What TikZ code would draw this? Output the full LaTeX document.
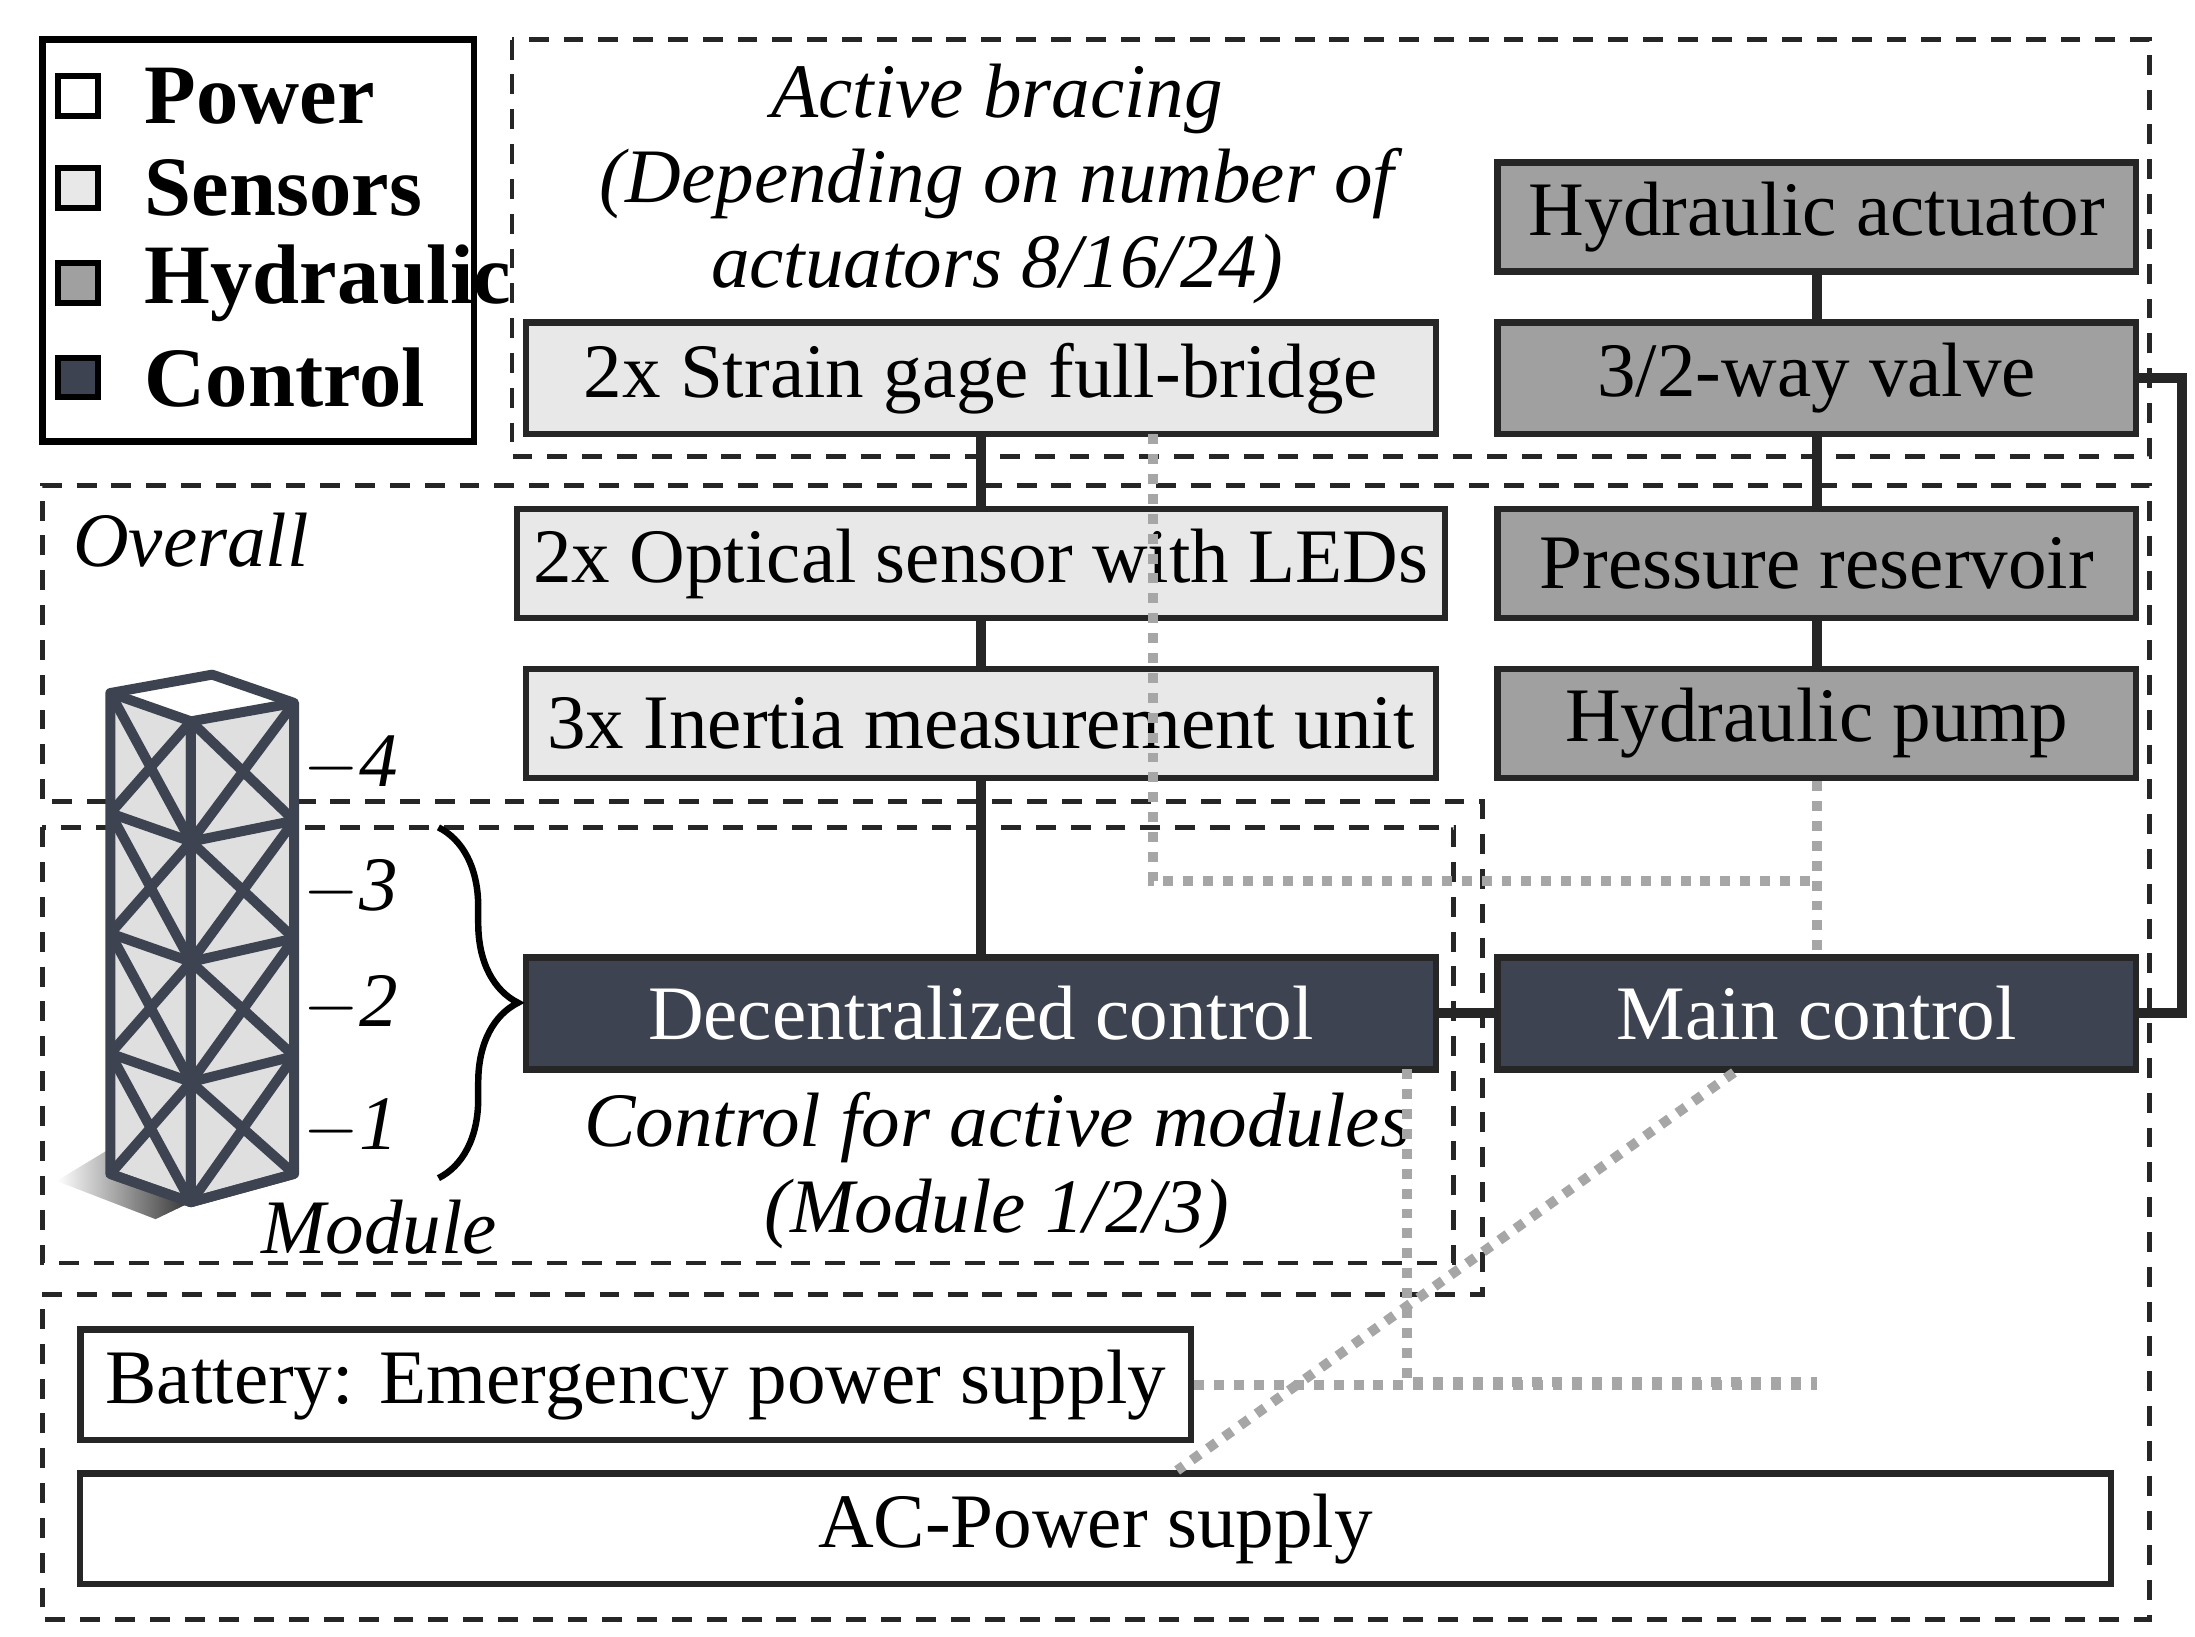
\documentclass[tikz,border=0pt]{standalone}
\usepackage{fontspec}
\setmainfont{Liberation Serif}
\usetikzlibrary{decorations.pathreplacing}
\definecolor{ctl}{HTML}{3D4350}
\definecolor{sen}{HTML}{E8E8E8}
\definecolor{hyd}{HTML}{A0A0A0}
\begin{document}
\begin{tikzpicture}[x=0.01cm,y=-0.01cm,
  box/.style={draw=black!85,line width=1.3pt,font=\fontsize{15.5}{18}\selectfont},
  dsh/.style={draw=black!85,line width=1pt,dash pattern=on 4pt off 3pt},
  ln/.style={line width=2pt,black!85},
  dt/.style={line width=2pt,gray!70,dash pattern=on 2pt off 2pt},
  it/.style={font=\fontsize{15.5}{18}\selectfont\itshape}]
\useasboundingbox (0,0) rectangle (1552,1157);
% dashed regions
\draw[dsh] (362,28) rectangle (1520,323);
\draw[dsh] (30,565)--(30,343)--(1520,343)--(1520,1145)--(30,1145)--(30,915)--(1048,915)--(1048,567)--(30,567);
\draw[dsh] (30,585) rectangle (1028,893);
% legend
\draw[line width=1.3pt] (30,28) rectangle (335,312);
\foreach \y/\c/\t in {68/white/Power,133/sen/Sensors,200/hyd/Hydraulic,267/ctl/Control}{
  \draw[line width=1.2pt,fill=\c] (41,\y-14) rectangle (69,\y+14);
  \node[anchor=west,font=\fontsize{17}{20}\selectfont\bfseries] at (90,\y) {\t};}
% nodes
\node[box,fill=sen,minimum width=6.43cm,minimum height=0.79cm] (sg) at (693.5,267.5) {2x Strain gage full-bridge};
\node[box,fill=sen,minimum width=6.43cm,minimum height=0.77cm] (os) at (693.5,398.5) {2x Optical sensor with LEDs};
\node[box,fill=sen,minimum width=6.43cm,minimum height=0.77cm] (imu) at (693.5,511.5) {3x Inertia measurement unit};
\node[box,fill=ctl,text=white,minimum width=6.43cm,minimum height=0.79cm] (dc) at (693.5,716.5) {Decentralized control};
\node[box,fill=hyd,minimum width=4.51cm,minimum height=0.77cm] (ha) at (1284.5,153.5) {Hydraulic actuator};
\node[box,fill=hyd,minimum width=4.51cm,minimum height=0.79cm] (vv) at (1284.5,267.5) {3/2-way valve};
\node[box,fill=hyd,minimum width=4.51cm,minimum height=0.77cm] (pr) at (1284.5,398.5) {Pressure reservoir};
\node[box,fill=hyd,minimum width=4.51cm,minimum height=0.77cm] (hp) at (1284.5,511.5) {Hydraulic pump};
\node[box,fill=ctl,text=white,minimum width=4.51cm,minimum height=0.79cm] (mc) at (1284.5,716.5) {Main control};
\node[box,fill=white,minimum width=7.85cm,minimum height=0.78cm] (bat) at (449.5,979) {Battery: Emergency power supply};
\node[box,fill=white,minimum width=14.35cm,minimum height=0.78cm] (ac) at (774.5,1081) {AC-Power supply};
% texts
\node[it] at (705,70) {Active bracing};
\node[it] at (705,130) {(Depending on number of};
\node[it] at (705,190) {actuators 8/16/24)};
\node[it] at (135,382) {Overall};
\node[it] at (268,868) {Module};
\node[it] at (705,797) {Control for active modules};
\node[it] at (705,858) {(Module 1/2/3)};
\foreach \y/\n in {540/4,628/3,710/2,797/1}{\node[it] at (248,\y) {$-$\n};}
\draw[line width=1.3pt,decoration={brace,amplitude=16pt},decorate] (310,585)--(310,833);
% tower
\shade[left color=white,right color=black!80] (40,835)--(78,812)--(135,850)--(110,862)--cycle;
\begin{scope}[ctl,line width=2pt,line join=round]
\draw[fill=gray!25] (78,490)--(135,510)--(135,850)--(78,830)--cycle;
\draw[fill=gray!25] (135,510)--(208,497)--(208,830)--(135,850)--cycle;
\draw (78,490)--(150,477)--(208,497);
\foreach \i in {0,1,2,3}{
  \pgfmathsetmacro\a{490+85*\i}\pgfmathsetmacro\b{490+85*(\i+1)}
  \pgfmathsetmacro\c{510+85*\i}\pgfmathsetmacro\d{510+85*(\i+1)}
  \pgfmathsetmacro\e{497+83.25*\i}\pgfmathsetmacro\f{497+83.25*(\i+1)}
  \draw (78,\a)--(135,\d) (78,\b)--(135,\c) (135,\c)--(208,\f) (135,\d)--(208,\e);
  \draw (78,\b)--(135,\d)--(208,\f);}
\end{scope}
% connectors
\draw[ln] (sg)--(os); \draw[ln] (os)--(imu); \draw[ln] (imu)--(dc);
\draw[ln] (ha)--(vv); \draw[ln] (vv)--(pr); \draw[ln] (pr)--(hp);
\draw[ln] (dc)--(mc);
\draw[ln] (vv.east)--(1543,267.5)--(1543,716.5)--(mc.east);
\draw[dt] (815,307)--(815,623)--(1284.5,623);
\draw[dt] (hp)--(mc);
\draw[dt] (mc)--(ac);
\draw[dt] (995,756)--(995,977)--(1284.5,977);
\draw[dt] (bat.east)--(1284.5,979);
\end{tikzpicture}
\end{document}
